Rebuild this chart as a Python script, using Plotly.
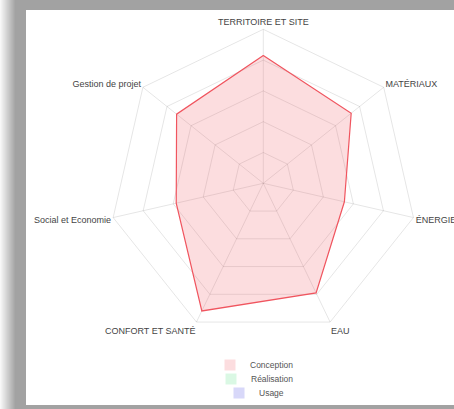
import plotly.graph_objects as go

# Radar axes (clockwise from the top)
categories = ["TERRITOIRE ET SITE", "MATÉRIAUX", "ÉNERGIE", "EAU",
              "CONFORT ET SANTÉ", "Social et Economie", "Gestion de projet"]

# Scores per phase (0-100)
conception = [83, 73, 54, 79, 92, 58, 72]
realisation = []
usage = []

series_names = ["Conception", "Réalisation", "Usage"]
line_colors = ["rgb(240,85,95)", "rgb(80,200,120)", "rgb(110,110,220)"]
fill_colors = ["rgba(240,85,95,0.2)", "rgba(70,220,120,0.2)", "rgba(100,100,230,0.25)"]

W, H = 454, 409
FONT = "Arial, Liberation Sans, sans-serif"


def px(x):
    return x / W


def py(y):
    return 1 - y / H


fig = go.Figure()

series = [conception, realisation, usage]
for i, (name, vals) in enumerate(zip(series_names, series)):
    if vals:
        fig.add_trace(go.Scatterpolar(
            r=vals + vals[:1], theta=categories + categories[:1], name=name,
            mode="lines", fill="toself", showlegend=False,
            line=dict(color=line_colors[i], width=1.2),
            fillcolor=fill_colors[i],
        ))
    # legend entry: small filled box per series
    fig.add_trace(go.Scatterpolar(
        r=[None], theta=[categories[0]], name=name, mode="markers",
        marker=dict(symbol="square", size=11, color=fill_colors[i], line_width=0),
        showlegend=True,
        legend="legend" if i == 0 else f"legend{i + 1}",
    ))

# Page background: grey surround with a soft left shadow and a white card
shapes = [dict(type="rect", xref="paper", yref="paper", x0=0, x1=1, y0=0, y1=1,
               fillcolor="#a2a2a2", line_width=0, layer="below")]
for k in range(16):
    t = k / 15
    c = int(248 - (248 - 162) * t)
    shapes.append(dict(type="rect", xref="paper", yref="paper",
                       x0=px(k), x1=px(k + 1), y0=0, y1=1,
                       fillcolor=f"rgb({c},{c},{c})", line_width=0, layer="below"))
shapes.append(dict(type="rect", xref="paper", yref="paper",
                   x0=px(26), x1=1.01, y0=py(405), y1=py(10),
                   fillcolor="white", line_width=0, layer="below"))

legend_common = dict(xanchor="left", yanchor="middle", bgcolor="rgba(0,0,0,0)",
                     font=dict(family=FONT, size=8.5, color="#555"),
                     itemwidth=30, borderwidth=0, tracegroupgap=0, visible=True)

fig.update_layout(
    width=W, height=H,
    margin=dict(l=0, r=0, t=0, b=0),
    paper_bgcolor="white",
    showlegend=True,
    shapes=shapes,
    polar=dict(
        domain=dict(x=[px(109.3), px(417.3)], y=[py(337.3), py(29.3)]),
        bgcolor="rgba(0,0,0,0)",
        gridshape="linear",
        radialaxis=dict(range=[0, 100], dtick=20, showticklabels=False, ticks="",
                        showline=False, gridcolor="rgba(0,0,0,0.1)", gridwidth=1,
                        layer="below traces"),
        angularaxis=dict(direction="clockwise", rotation=90, ticks="",
                         showline=True, linecolor="rgba(0,0,0,0.1)", linewidth=1,
                         gridcolor="rgba(0,0,0,0.1)", layer="below traces",
                         tickfont=dict(family=FONT, size=9, color="#444")),
    ),
    legend=dict(x=px(250 - 40), y=py(365), **legend_common),
    legend2=dict(x=px(251 - 40), y=py(379), **legend_common),
    legend3=dict(x=px(259 - 40), y=py(393), **legend_common),
)

fig.write_html("out.html")
